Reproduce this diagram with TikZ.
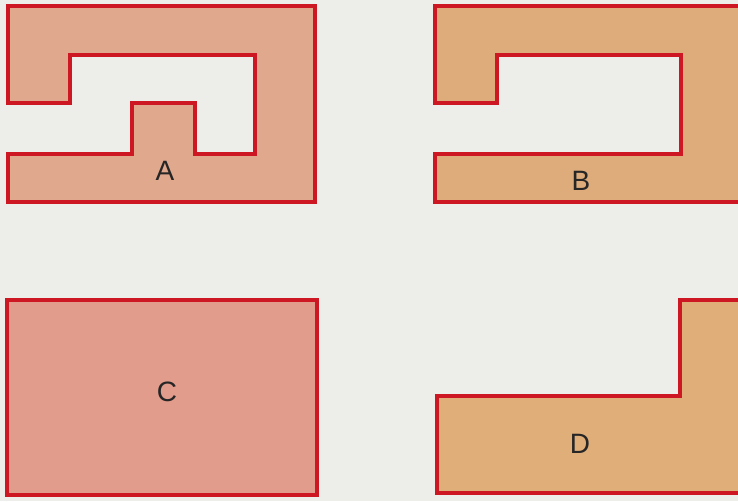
\documentclass[tikz,border=0pt]{standalone}
\usepackage{fontspec}
\setsansfont{Liberation Sans}
\definecolor{paper}{RGB}{237,237,233}
\definecolor{edge}{RGB}{205,24,36}
\definecolor{fillA}{RGB}{224,168,140}
\definecolor{fillB}{RGB}{221,172,122}
\definecolor{fillC}{RGB}{225,156,140}
\definecolor{fillD}{RGB}{224,174,120}

\begin{document}
\begin{tikzpicture}[
  x=1pt, y=-1pt,
  board/.style={draw=edge, line width=3.6pt, line join=miter},
  tag/.style={font=\sffamily\fontsize{28}{30}\selectfont, text=black!85},
]
  % page: 738 x 501, y runs downwards as in the reference
  \clip (0,0) rectangle (738,501);
  \fill[paper] (0,0) rectangle (738,501);

  % A: frame with a tooth in the middle
  \draw[board, fill=fillA] (8,6) -- (315,6) -- (315,202) -- (8,202) -- (8,154)
    -- (132,154) -- (132,103) -- (195,103) -- (195,154) -- (255,154)
    -- (255,55) -- (70,55) -- (70,103) -- (8,103) -- cycle;
  \node[tag] (labA) at (165,171) {A};

  % B: same frame, no tooth, runs off to the right
  \draw[board, fill=fillB] (760,6) -- (435,6) -- (435,103) -- (497,103)
    -- (497,55) -- (681,55) -- (681,154) -- (435,154) -- (435,202) -- (760,202);
  \node[tag] (labB) at (581,181) {B};

  % C: plain rectangle
  \draw[board, fill=fillC] (7,300) rectangle (317,495);
  \node[tag] (labC) at (167,392) {C};

  % D: step shape, also cut by the right edge
  \draw[board, fill=fillD] (760,300) -- (680,300) -- (680,396) -- (437,396)
    -- (437,493) -- (760,493);
  \node[tag] (labD) at (580,444) {D};
\end{tikzpicture}
\end{document}
